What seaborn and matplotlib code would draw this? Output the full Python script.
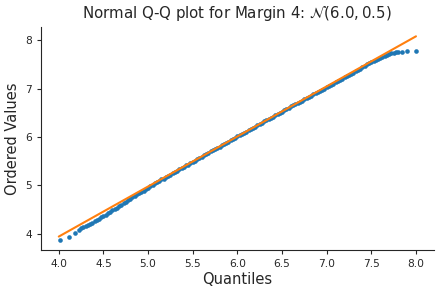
import matplotlib
matplotlib.use("Agg")
import matplotlib.pyplot as plt
import seaborn as sns
import pandas as pd

# Theoretical quantiles (x) and ordered sample values (y)
quantiles = [4.01, 4.12, 4.18, 4.23,
             4.250, 4.275, 4.300, 4.325, 4.350, 4.375, 4.400, 4.425,
             4.450, 4.475, 4.500, 4.525, 4.550, 4.575, 4.600, 4.625,
             4.650, 4.675, 4.700, 4.725, 4.750, 4.775, 4.800, 4.825,
             4.850, 4.875, 4.900, 4.925, 4.950, 4.975, 5.000, 5.025,
             5.050, 5.075, 5.100, 5.125, 5.150, 5.175, 5.200, 5.225,
             5.250, 5.275, 5.300, 5.325, 5.350, 5.375, 5.400, 5.425,
             5.450, 5.475, 5.500, 5.525, 5.550, 5.575, 5.600, 5.625,
             5.650, 5.675, 5.700, 5.725, 5.750, 5.775, 5.800, 5.825,
             5.850, 5.875, 5.900, 5.925, 5.950, 5.975, 6.000, 6.025,
             6.050, 6.075, 6.100, 6.125, 6.150, 6.175, 6.200, 6.225,
             6.250, 6.275, 6.300, 6.325, 6.350, 6.375, 6.400, 6.425,
             6.450, 6.475, 6.500, 6.525, 6.550, 6.575, 6.600, 6.625,
             6.650, 6.675, 6.700, 6.725, 6.750, 6.775, 6.800, 6.825,
             6.850, 6.875, 6.900, 6.925, 6.950, 6.975, 7.000, 7.025,
             7.050, 7.075, 7.100, 7.125, 7.150, 7.175, 7.200, 7.225,
             7.250, 7.275, 7.300, 7.325, 7.350, 7.375, 7.400, 7.425,
             7.450, 7.475, 7.500, 7.525, 7.550, 7.575, 7.600, 7.625,
             7.650, 7.675, 7.700, 7.725, 7.750, 7.775, 7.800,
             7.84, 7.90, 8.00]
ordered = [3.86, 3.93, 4.01, 4.08,
           4.12, 4.14, 4.16, 4.18, 4.20, 4.23, 4.26, 4.28,
           4.31, 4.34, 4.37, 4.39, 4.42, 4.45, 4.48, 4.51,
           4.54, 4.57, 4.60, 4.63, 4.66, 4.69, 4.72, 4.75,
           4.78, 4.81, 4.84, 4.86, 4.89, 4.92, 4.95, 4.98,
           5.01, 5.04, 5.06, 5.09, 5.12, 5.14, 5.17, 5.20,
           5.22, 5.25, 5.28, 5.30, 5.33, 5.36, 5.38, 5.41,
           5.43, 5.46, 5.49, 5.51, 5.54, 5.57, 5.59, 5.62,
           5.64, 5.67, 5.70, 5.72, 5.75, 5.78, 5.80, 5.83,
           5.85, 5.88, 5.90, 5.93, 5.96, 5.98, 6.01, 6.03,
           6.06, 6.09, 6.11, 6.14, 6.16, 6.19, 6.21, 6.24,
           6.27, 6.29, 6.32, 6.34, 6.37, 6.40, 6.42, 6.45,
           6.47, 6.50, 6.52, 6.55, 6.57, 6.60, 6.63, 6.65,
           6.68, 6.70, 6.73, 6.75, 6.78, 6.80, 6.83, 6.85,
           6.88, 6.90, 6.93, 6.95, 6.98, 7.00, 7.03, 7.05,
           7.08, 7.10, 7.13, 7.15, 7.18, 7.20, 7.23, 7.25,
           7.28, 7.30, 7.33, 7.36, 7.39, 7.41, 7.44, 7.47,
           7.50, 7.52, 7.55, 7.57, 7.60, 7.62, 7.64, 7.66,
           7.68, 7.70, 7.71, 7.73, 7.74, 7.75, 7.76,
           7.76, 7.77, 7.78]

# Reference (fitted) line end points
line_x = [4.0, 8.0]
line_y = [3.94, 8.08]

xticks = [4.0, 4.5, 5.0, 5.5, 6.0, 6.5, 7.0, 7.5, 8.0]
yticks = [4, 5, 6, 7, 8]

title = r"Normal Q-Q plot for Margin 4: $\mathcal{N}(6.0, 0.5)$"

sns.set_style("ticks")
plt.rcParams["font.family"] = ["DejaVu Sans"]

df = pd.DataFrame({"q": quantiles, "v": ordered})
ldf = pd.DataFrame({"x": line_x, "y": line_y})

fig = plt.figure(figsize=(4.4, 2.96), dpi=100)
ax = fig.add_axes([0.093, 0.155, 0.893, 0.755])

sns.scatterplot(data=df, x="q", y="v", ax=ax, color="#1f77b4", s=11,
                linewidth=0, zorder=2)
sns.lineplot(data=ldf, x="x", y="y", ax=ax, color="#ff7f0e", linewidth=1.5,
             zorder=3)

ax.set_xticks(xticks)
ax.set_xticklabels([f"{t:.1f}" for t in xticks])
ax.set_yticks(yticks)
ax.set_yticklabels([str(t) for t in yticks])
ax.tick_params(labelsize=7.7, length=3, width=0.8)
ax.set_xlim(3.8, 8.2)
ax.set_ylim(3.66, 8.28)
ax.set_xlabel("Quantiles", fontsize=10.5, labelpad=2)
ax.set_ylabel("Ordered Values", fontsize=10.5, labelpad=4)
ax.set_title(title, fontsize=10.8, pad=6)
sns.despine(ax=ax)

fig.savefig("out.png", dpi=100)
